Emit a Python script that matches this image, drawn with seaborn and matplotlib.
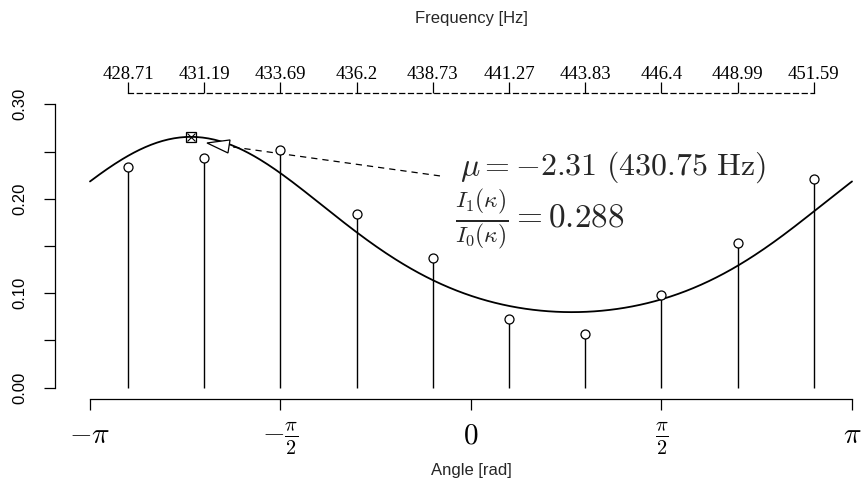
import numpy as np
import pandas as pd
import matplotlib
matplotlib.use("Agg")
import matplotlib.pyplot as plt
from matplotlib.patches import Polygon
import seaborn as sns

# ---- data ----
angles = np.pi * np.array([-0.9, -0.7, -0.5, -0.3, -0.1, 0.1, 0.3, 0.5, 0.7, 0.9])
density = [0.234, 0.2436, 0.252, 0.184, 0.1377, 0.0731, 0.0572, 0.0985, 0.1536, 0.2214]
freq_labels = ["428.71", "431.19", "433.69", "436.2", "438.73",
               "441.27", "443.83", "446.4", "448.99", "451.59"]
mu = -2.31
kappa = 0.6
x_ticks = [-np.pi, -np.pi / 2, 0, np.pi / 2, np.pi]
x_ticklabels = [r"$-\pi$", r"$-\frac{\pi}{2}$", r"$0$", r"$\frac{\pi}{2}$", r"$\pi$"]
y_ticks = [0.0, 0.05, 0.10, 0.15, 0.20, 0.25, 0.30]
y_ticklabels = ["0.00", "", "0.10", "", "0.20", "", "0.30"]

sns.set_theme(style="ticks")
plt.rcParams["font.family"] = ["Liberation Sans", "DejaVu Sans"]
plt.rcParams["mathtext.fontset"] = "cm"

W, H = 864, 488
fig = plt.figure(figsize=(W / 100, H / 100), dpi=100)
L, R, B, T = 55, 864, 399, 93
ax = fig.add_axes([L / W, 1 - B / H, (R - L) / W, (B - T) / H])

# fitted von Mises curve from displayed parameters
xs = np.linspace(-np.pi, np.pi, 400)
curve = np.exp(kappa * np.cos(xs - mu)) / (2 * np.pi * np.i0(kappa))
df_curve = pd.DataFrame({"x": xs, "y": curve})
df_pts = pd.DataFrame({"x": angles, "y": density})

ax.vlines(df_pts["x"], 0, df_pts["y"], color="black", lw=1.0)
sns.lineplot(data=df_curve, x="x", y="y", ax=ax, color="black", lw=1.3, sort=False)
sns.scatterplot(data=df_pts, x="x", y="y", ax=ax, marker="o", s=42,
                facecolor="white", edgecolor="black", linewidth=0.9, zorder=3)
peak = np.exp(kappa) / (2 * np.pi * np.i0(kappa))
ax.plot([mu], [peak], marker="s", ms=6.5, mfc="none", mec="black", mew=0.9, zorder=4)
ax.plot([mu], [peak], marker="x", ms=5.5, mec="black", mew=0.8, zorder=4)

sx = 762 / (2 * np.pi)
ax.set_xlim(-np.pi - (90 - L) / sx, np.pi + (R - 852) / sx)
ax.set_ylim(-0.012, 0.312)

for s in ["right", "top"]:
    ax.spines[s].set_visible(False)
ax.spines["bottom"].set_bounds(-np.pi, np.pi)
ax.spines["left"].set_bounds(0, 0.3)
for s in ["bottom", "left"]:
    ax.spines[s].set_linewidth(0.9)
    ax.spines[s].set_color("black")

ax.set_xticks(x_ticks)
ax.set_xticklabels(x_ticklabels, fontsize=21)
ax.set_yticks(y_ticks)
ax.set_yticklabels(y_ticklabels, rotation=90, va="center", fontsize=12)
ax.tick_params(axis="x", direction="out", length=8, width=0.9, pad=8, colors="black")
ax.tick_params(axis="y", direction="out", length=8, width=0.9, pad=12, colors="black")
ax.set_xlabel("")
ax.set_ylabel("")

# top frequency axis
ax2 = ax.twiny()
ax2.set_xlim(ax.get_xlim())
for s in ["right", "left", "bottom"]:
    ax2.spines[s].set_visible(False)
ax2.spines["top"].set_bounds(angles[0], angles[-1])
ax2.spines["top"].set_linestyle((0, (4, 3)))
ax2.spines["top"].set_linewidth(0.9)
ax2.spines["top"].set_color("black")
ax2.set_xticks(angles)
ax2.set_xticklabels(freq_labels, family=["Liberation Serif", "DejaVu Serif"], fontsize=13.5)
ax2.tick_params(axis="x", direction="out", length=8, width=0.9, pad=-1, colors="black")
for t in ax2.xaxis.get_major_ticks():
    t.tick2line.set_linestyle((0, (2, 2)))

# annotation arrow (dashed shaft, open head)
tail = (-0.256, 0.2242)
base = (-1.995, 0.2554)
ax.plot([tail[0], base[0]], [tail[1], base[1]], color="black", lw=0.9,
        linestyle=(0, (5, 4)))
head = Polygon([(-2.177, 0.2591), (-1.987, 0.2623), (-2.004, 0.2485)],
               closed=True, facecolor="white", edgecolor="black", lw=0.9, zorder=5)
ax.add_patch(head)

ax.text(-0.09, 0.2337, r"$\mu = -2.31\ (430.75\ \mathrm{Hz})$", fontsize=23,
        ha="left", va="center")
ax.text(-0.13, 0.1776, r"$\frac{I_1(\kappa)}{I_0(\kappa)} = 0.288$", fontsize=24,
        ha="left", va="center")

fig.text(471 / W, 1 - 18 / H, "Frequency [Hz]", ha="center", va="center", fontsize=12)
fig.text(471 / W, 1 - 471 / H, "Angle [rad]", ha="center", va="center", fontsize=12)

fig.savefig("out.png", dpi=100)
